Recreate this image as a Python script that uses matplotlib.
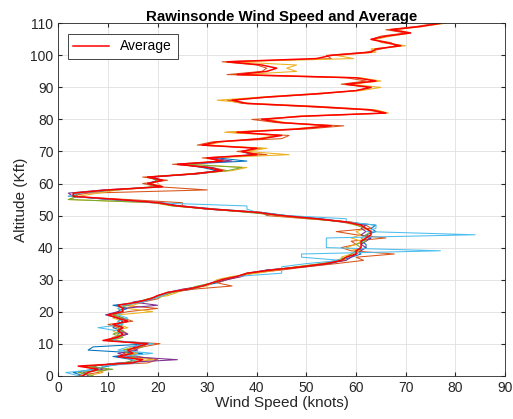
import numpy as np
import matplotlib
matplotlib.use("Agg")
import matplotlib.pyplot as plt

# Altitude grids (Kft)
alt_full = list(range(0, 111))

# Average wind speed (knots) at 0..110 Kft
avg_speed = [5, 6, 8, 4, 15, 17, 12, 15, 14, 16, 18,
             9, 12, 13, 12, 13, 11, 14, 12, 10, 13,
             13, 12, 16, 18.5, 20, 22, 26, 29, 31, 33,
             36, 38, 43, 49, 54, 57, 58, 60, 60, 61,
             61, 61, 62, 63, 63, 62, 61, 58, 52, 45,
             40, 31, 24, 20, 12, 3, 3, 10, 21, 18,
             21, 18, 27, 33, 30, 24, 33, 30, 40, 37,
             40, 29, 32, 41, 45, 36, 48, 55, 45, 41,
             49, 66, 63, 52, 38, 35, 42, 52, 60, 63,
             58, 64, 60, 36, 42, 44, 41, 34, 52, 55,
             63, 64, 69, 66, 63, 66, 71, 67, 73, 77]

# Individual soundings
orange_speed = [4, 8, 10, 5, 18, 20, 16, 13, 15, 17, 20.5,
                10, 11, 14, 13, 12, 10, 15, 13, 11, 14,
                20, 13, 17, 20, 21, 23, 27, 35, 32, 34,
                37, 39, 45, 50, 56, 61.5, 60, 67.7, 59, 57,
                60, 59, 66, 60, 56, 63, 62, 59, 50, 42,
                41, 30, 25, 25, 14, 2, 6, 30, 20, 17,
                22, 17, 28, 34, 31, 23, 34, 29, 42, 36,
                41, 28, 31, 45, 46.5, 34, 50, 57.5, 44, 39,
                50, 66, 62, 50, 37, 34, 43, 53, 60, 63,
                57, 62, 58, 34, 41, 42, 40, 33, 55, 54,
                62, 65, 68, 67, 63, 65, 70, 66, 72, 76]

yellow_speed = [6, 9, 7, 6, 14, 19, 13, 16, 13, 15, 17,
                11, 13, 12, 11, 14, 12, 13, 11, 12, 19,
                14, 15, 17, 18, 22, 24, 25, 30, 31, 32,
                35, 40, 44, 48, 53, 58, 57, 59, 61, 58,
                60, 61, 59, 61, 60, 62, 60, 57, 51, 44,
                39, 30, 23, 19, 2, 4, 8, 12, 21, 20,
                20, 19, 26, 35, 38, 26, 32, 31, 46.5, 38,
                42, 30, 33, 40, 44, 33.5, 47, 54, 46, 42,
                48, 66.5, 64, 53, 39, 32, 41, 51, 61, 65,
                59, 65, 61, 37, 48, 46, 48, 35, 59.5, 56,
                64, 63, 70, 65, 64, 67, 71, 68, 73, 78]

blue_speed = [5, 3, 7, 10, 14, 15, 11, 17, 6, 7, 19,
              10, 12, 12, 13, 11, 12, 14, 13, 11, 12,
              14, 11, 17, 19, 21, 22, 27, 29, 32, 34,
              36, 39, 42, 50, 55, 57, 59, 61, 60, 62,
              62, 61, 63, 62, 64, 63, 64, 58, 53, 46,
              41, 32, 25, 19, 10, 3, 4, 12, 20, 18,
              20, 18, 27, 32, 29, 25, 38, 32, 39, 37]

purple_speed = [6, 5, 9, 7, 12, 24, 14, 12, 16, 15, 17,
                10, 12, 14, 12, 13, 12, 13, 12, 9.5, 12,
                13, 20, 15, 19, 20, 22, 25, 29, 31, 34,
                37, 38, 42, 49, 54, 58, 59, 60, 61, 62,
                61, 62, 63, 61, 62, 61, 62, 57, 52, 45,
                39, 30, 24, 21, 11, 3, 2, 9, 21, 18,
                21, 19, 28, 33, 31, 24, 35, 31]

green_speed = [7, 4, 11, 6, 13, 16, 15, 14, 13, 17, 18,
               10, 13, 11, 13, 12, 13, 12, 13, 11, 13,
               12, 14, 16, 18, 21, 23, 26, 28, 31, 33,
               36, 38, 43, 48, 53, 56, 58, 59, 60, 61,
               60, 62, 61, 62, 63, 62, 60, 58, 51, 45,
               38, 31, 23, 20, 2, 4, 3, 11, 19, 19,
               20, 18, 27, 34, 37, 26]

lightblue_speed = [4, 1.5, 8, 9, 16, 15, 13, 19, 12, 14, 19,
                   11, 12, 13, 12, 8, 13, 12, 14, 12, 13,
                   12, 13, 17, 19, 21, 22, 26, 29, 31, 33,
                   36, 45, 45, 45, 50, 57, 49, 49, 77, 54,
                   54, 54, 54, 84, 62, 64, 64, 58, 58, 46,
                   40, 38, 38, 19, 11, 2, 4, 10]

series = [
    (blue_speed, "#0072BD"),
    (orange_speed, "#D95319"),
    (yellow_speed, "#EDB120"),
    (purple_speed, "#7E2F8E"),
    (green_speed, "#77AC30"),
    (lightblue_speed, "#4DBEEE"),
]

plt.rcParams['font.family'] = ['Liberation Sans', 'DejaVu Sans']

fig = plt.figure(figsize=(5.13, 4.19), dpi=100)
ax = fig.add_axes([0.1137, 0.1033, 0.8707, 0.841])

for spd, col in series:
    ax.plot(spd, alt_full[:len(spd)], color=col, lw=0.75)

ax.plot(avg_speed, alt_full, color="#FF0000", lw=1.1, label="Average")

ax.set_xlim(0, 90)
ax.set_ylim(0, 110)
ax.set_xticks(range(0, 91, 10))
ax.set_yticks(range(0, 111, 10))
ax.grid(True, color="#DFDFDF", lw=0.6)
ax.set_axisbelow(True)
ax.tick_params(direction='in', length=3, labelsize=10, colors="#262626",
               top=True, right=True)
for s in ax.spines.values():
    s.set_color("#262626")
    s.set_linewidth(0.6)

ax.set_title("Rawinsonde Wind Speed and Average", fontsize=10.8, fontweight='bold',
             color="#000000", pad=1.5)
ax.set_xlabel("Wind Speed (knots)", fontsize=11, color="#262626", labelpad=1)
ax.set_ylabel("Altitude (Kft)", fontsize=11, color="#262626", labelpad=2)

leg = ax.legend(loc='upper left', fontsize=10, fancybox=False, framealpha=1,
                edgecolor="#262626", borderpad=0.4, handlelength=2.6,
                bbox_to_anchor=(0.005, 0.99))
leg.get_frame().set_linewidth(0.6)

fig.savefig("out.png", dpi=100)
